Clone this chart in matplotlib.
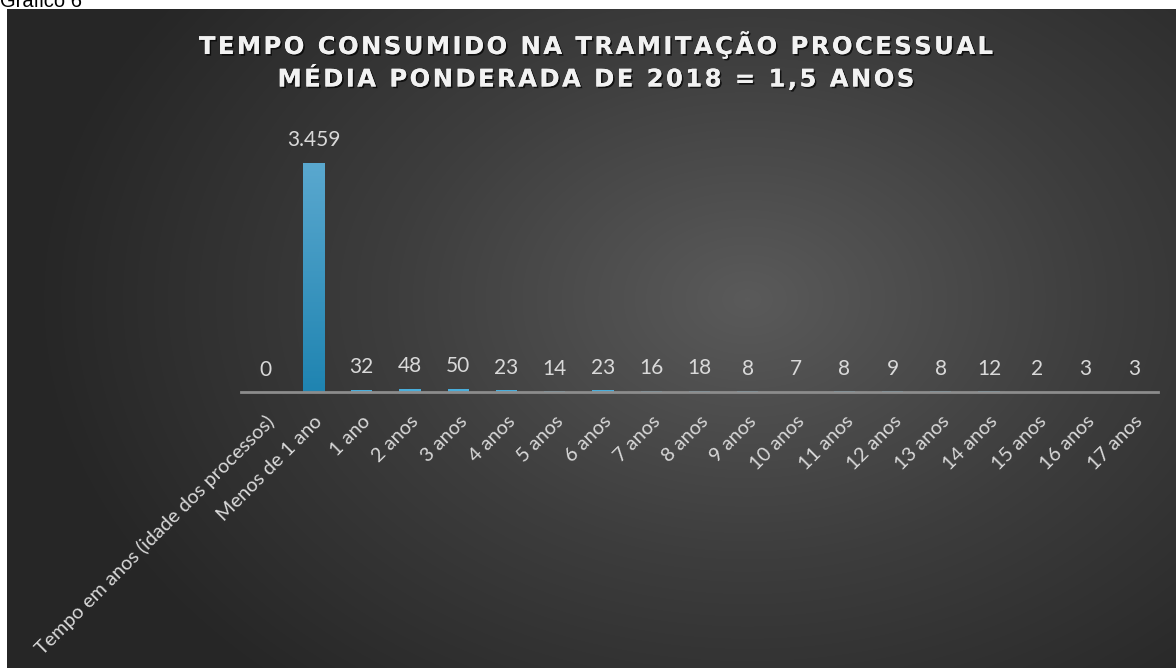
import numpy as np
import matplotlib.pyplot as plt
import matplotlib.patheffects as pe
from matplotlib.colors import LinearSegmentedColormap

# dados
categorias = ["Tempo em anos (idade dos processos)", "Menos de 1 ano", "1 ano",
              "2 anos", "3 anos", "4 anos", "5 anos", "6 anos", "7 anos", "8 anos",
              "9 anos", "10 anos", "11 anos", "12 anos", "13 anos", "14 anos",
              "15 anos", "16 anos", "17 anos"]
valores = [0, 3459, 32, 48, 50, 23, 14, 23, 16, 18, 8, 7, 8, 9, 8, 12, 2, 3, 3]
rotulos = ["0", "3.459", "32", "48", "50", "23", "14", "23", "16", "18", "8", "7",
           "8", "9", "8", "12", "2", "3", "3"]
titulo = "TEMPO CONSUMIDO NA TRAMITAÇÃO PROCESSUAL\nMÉDIA PONDERADA DE 2018 = 1,5 ANOS"

W, H = 1176, 668
fig = plt.figure(figsize=(W / 100, H / 100), dpi=100)
fig.patch.set_facecolor("white")

# fundo com gradiente radial
bg = fig.add_axes([7 / W, 0, 1 - 7 / W, 659 / H])
bg.set_axis_off()
yy, xx = np.mgrid[0:659, 0:1169]
d = np.hypot((xx - 740) / 720.0, (yy - 290) / 520.0)
d = np.clip(d, 0, 1)
cmap_bg = LinearSegmentedColormap.from_list("bg", ["#5a5a5a", "#3d3d3d", "#262626"])
bg.imshow(d, cmap=cmap_bg, aspect="auto", vmin=0, vmax=1, interpolation="bilinear")

fig.text(0.0, 1 - 7 / H, "Gráfico 6", fontsize=14.5, family="Liberation Sans",
         va="baseline", ha="left", color="black")

ax = fig.add_axes([241 / W, 276 / H, 917 / W, 265 / H])
ax.patch.set_alpha(0)
x = np.arange(len(categorias))
cores = ["#2a8fbd" if v > 1000 else "#4aaedb" for v in valores]
barras = ax.bar(x, valores, width=0.44, color=cores, zorder=2)

# gradiente na barra grande
grad = LinearSegmentedColormap.from_list("b", ["#1f84b1", "#5aa8cf"])
for b, v in zip(barras, valores):
    if v > 1000:
        img = ax.imshow(np.linspace(0, 1, 100).reshape(-1, 1), cmap=grad, origin="lower",
                        extent=[b.get_x(), b.get_x() + b.get_width(), 0, v],
                        aspect="auto", zorder=3)
        img.set_clip_path(b)

ax.set_xlim(-0.5, len(categorias) - 0.5)
ax.set_ylim(0, 4000)
ax.set_aspect("auto")

for xi, v, r in zip(x, valores, rotulos):
    ax.annotate(r, (xi, v), xytext=(0, 9), textcoords="offset points",
                ha="center", va="bottom", fontsize=15, family="Lato", color="#d9d9d9")

for s in ["top", "right", "left"]:
    ax.spines[s].set_visible(False)
ax.spines["bottom"].set_color("#8c8c8c")
ax.spines["bottom"].set_linewidth(2)
ax.spines["bottom"].set_zorder(4)
ax.set_yticks([])
ax.set_xticks(x)
ax.set_xticklabels(categorias, rotation=45, ha="right", va="top",
                   rotation_mode="anchor", fontsize=14.3, family="Lato", color="#d9d9d9")
ax.tick_params(axis="x", length=0, pad=15)

linhas = titulo.split("\n")
for i, l in enumerate(linhas):
    t = "\u200a".join(l)
    fig.text(595 / W, 1 - (45 + 33 * i) / H, t, ha="center", va="center",
             fontsize=17.5, fontweight="bold", family="DejaVu Sans", color="#f2f2f2",
             path_effects=[pe.withSimplePatchShadow(offset=(1.2, -1.2),
                                                    shadow_rgbFace="black", alpha=0.7),
                           pe.Normal()])

fig.savefig("out.png", dpi=100)
